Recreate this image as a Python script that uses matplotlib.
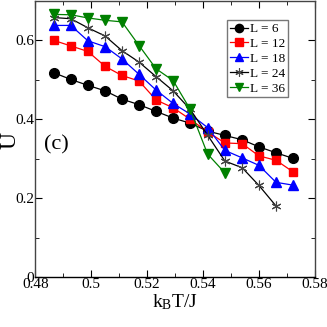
import matplotlib
matplotlib.use("Agg")
import matplotlib.pyplot as plt
from matplotlib.ticker import MultipleLocator

plt.rcParams['font.family'] = ['Liberation Serif', 'DejaVu Serif']
plt.rcParams['mathtext.fontset'] = 'custom'
plt.rcParams['mathtext.rm'] = 'Liberation Serif'
plt.rcParams['mathtext.it'] = 'Liberation Serif'

T = [0.4866, 0.4927, 0.4988, 0.5050, 0.5110, 0.5171, 0.5232, 0.5293,
     0.5354, 0.5416, 0.5478, 0.5540, 0.5600, 0.5661, 0.5721]

U_L6 = [0.518, 0.501, 0.486, 0.472, 0.451, 0.437, 0.420, 0.403,
        0.390, 0.370, 0.359, 0.348, 0.330, 0.315, 0.301]
U_L12 = [0.600, 0.586, 0.572, 0.534, 0.511, 0.497, 0.449, 0.429,
         0.400, 0.368, 0.340, 0.338, 0.307, 0.296, 0.267]
U_L18 = [0.638, 0.638, 0.599, 0.584, 0.553, 0.514, 0.474, 0.440,
         0.413, 0.379, 0.321, 0.302, 0.283, 0.240, 0.233]
U_L24 = [0.658, 0.655, 0.632, 0.611, 0.574, 0.545, 0.508, 0.472,
         0.425, 0.360, 0.294, 0.277, 0.232, 0.180]
U_L36 = [0.666, 0.665, 0.657, 0.651, 0.647, 0.587, 0.528, 0.498,
         0.425, 0.312, 0.264]

labels = ["L = 6", "L = 12", "L = 18", "L = 24", "L = 36"]

fig = plt.figure(figsize=(3.27, 3.27), dpi=100)
ax = fig.add_axes([0.108, 0.153, 0.855, 0.844])

ax.plot(T, U_L6, '-o', color='black', lw=0.9, ms=7, label=labels[0])
ax.plot(T, U_L12, '-s', color='red', mfc='red', lw=0.9, ms=6, label=labels[1])
ax.plot(T, U_L18, '-^', color='blue', lw=0.9, ms=6.5, label=labels[2])
ax.plot(T[:len(U_L24)], U_L24, '-', color='black', marker=(6, 2, 0),
        mec='#444444', lw=0.9, ms=7, mew=0.8, label=labels[3])
ax.plot(T[:len(U_L36)], U_L36, '-v', color='green', lw=0.9, ms=6.5, label=labels[4])

ax.set_xlim(0.48, 0.58)
ax.set_ylim(0, 0.7)
ax.xaxis.set_minor_locator(MultipleLocator(0.01))
ax.yaxis.set_minor_locator(MultipleLocator(0.1))
ax.set_xticks([0.48, 0.5, 0.52, 0.54, 0.56, 0.58])
ax.set_xticklabels(["0.48", "0.5", "0.52", "0.54", "0.56", "0.58"])
ax.set_yticks([0, 0.2, 0.4, 0.6])
ax.set_yticklabels(["0", "0.2", "0.4", "0.6"])
ax.tick_params(which='both', direction='in', top=True, right=True, labelsize=11, pad=1)
ax.tick_params(which='major', length=5)
ax.tick_params(which='minor', length=3)
for s in ax.spines.values():
    s.set_linewidth(1.0)
    s.set_color('#444444')
ax.spines['bottom'].set_color('black')

ax.set_xlabel(r"k$_\mathrm{B}$T/J", fontsize=14, labelpad=1)
fig.text(10 / 327, 0.572, "U", fontsize=17, rotation=90, ha='center', va='center')
ax.text(0.4877, 0.334, "(c)", fontsize=16, ha='center', va='center')

leg = ax.legend(loc='upper right', bbox_to_anchor=(0.905, 0.93), fontsize=9.5,
                frameon=True, fancybox=False, edgecolor='#555555',
                handlelength=1.4, handletextpad=0.15, borderpad=0.2,
                labelspacing=0.2, borderaxespad=0.0, markerscale=0.85)
leg.get_frame().set_linewidth(1.0)

fig.savefig("out.png", dpi=100)
